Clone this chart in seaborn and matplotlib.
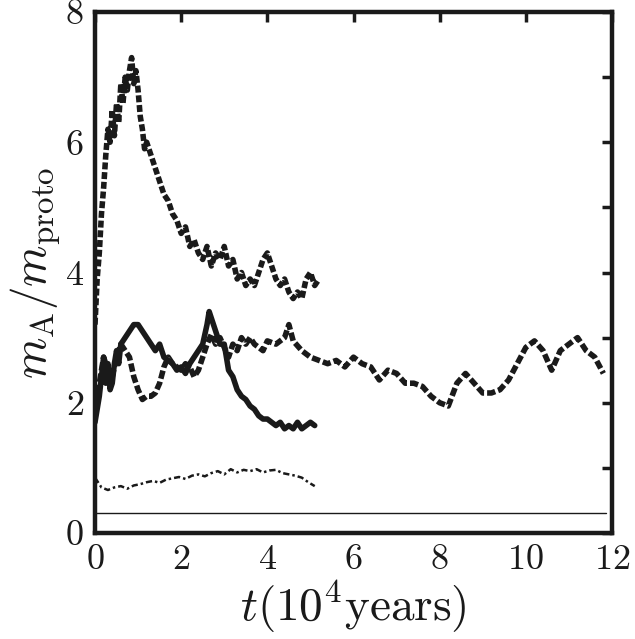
import matplotlib
matplotlib.use("Agg")
import matplotlib.pyplot as plt
import seaborn as sns
import pandas as pd

# ---- data ----
top_t = [0.0, 0.05, 0.1, 0.15, 0.2, 0.25, 0.3, 0.35, 0.4, 0.45, 0.5, 0.55, 0.6, 0.65, 0.7, 0.75,
         0.8, 0.85, 0.9, 0.95, 1.0, 1.05, 1.1, 1.15, 1.2, 1.3, 1.4, 1.5, 1.6, 1.7, 1.8, 1.9, 2.0,
         2.1, 2.2, 2.3, 2.4, 2.5, 2.6, 2.7, 2.8, 2.9, 3.0, 3.1, 3.2, 3.3, 3.4, 3.5, 3.6, 3.7, 3.8,
         3.9, 4.0, 4.1, 4.2, 4.3, 4.4, 4.5, 4.6, 4.7, 4.8, 4.9, 5.0, 5.1, 5.2]
top_m = [3.2, 3.9, 4.3, 4.9, 5.3, 5.8, 6.2, 6.0, 6.5, 6.1, 6.6, 6.3, 6.9, 6.6, 7.0, 6.8,
         7.1, 7.3, 6.9, 7.1, 6.8, 6.4, 6.2, 5.9, 6.0, 5.8, 5.6, 5.4, 5.2, 5.1, 4.9, 4.8, 4.6,
         4.7, 4.4, 4.5, 4.3, 4.2, 4.4, 4.1, 4.3, 4.2, 4.4, 4.1, 4.2, 3.9, 4.0, 3.8, 3.9, 3.8, 4.0,
         4.2, 4.3, 4.1, 3.9, 3.8, 3.9, 3.7, 3.6, 3.7, 3.6, 3.9, 4.0, 3.8, 3.9]

solid_t = [0.0, 0.05, 0.1, 0.15, 0.2, 0.25, 0.3, 0.35, 0.4, 0.45, 0.5, 0.55, 0.6, 0.7, 0.8, 0.9,
           1.0, 1.1, 1.2, 1.3, 1.4, 1.5, 1.6, 1.7, 1.8, 1.9, 2.0, 2.1, 2.2, 2.3, 2.4, 2.5, 2.6,
           2.65, 2.7, 2.8, 2.9, 3.0, 3.1, 3.2, 3.3, 3.4, 3.5, 3.6, 3.7, 3.8, 3.9, 4.0, 4.1, 4.2,
           4.3, 4.4, 4.5, 4.6, 4.7, 4.8, 4.9, 5.0, 5.1]
solid_m = [1.7, 1.9, 2.1, 2.4, 2.7, 2.3, 2.6, 2.2, 2.3, 2.6, 2.8, 2.6, 2.9, 3.0, 3.1, 3.2,
           3.2, 3.1, 3.0, 2.9, 2.8, 2.9, 2.7, 2.65, 2.6, 2.5, 2.55, 2.45, 2.6, 2.7, 2.8, 2.9, 3.2,
           3.4, 3.3, 3.1, 2.9, 2.9, 2.5, 2.4, 2.2, 2.1, 2.05, 1.95, 1.9, 1.8, 1.75, 1.75, 1.7, 1.65,
           1.7, 1.6, 1.65, 1.6, 1.7, 1.6, 1.65, 1.7, 1.65]

long_t = [0.0, 0.1, 0.2, 0.3, 0.4, 0.5, 0.6, 0.7, 0.8, 0.9, 1.0, 1.1, 1.2, 1.3, 1.4, 1.5, 1.6,
          1.7, 1.8, 1.9, 2.0, 2.1, 2.2, 2.3, 2.4, 2.5, 2.6, 2.7, 2.8, 2.9, 3.0, 3.1, 3.2, 3.3,
          3.4, 3.5, 3.6, 3.7, 3.8, 3.9, 4.0, 4.2, 4.4, 4.5, 4.6, 4.8, 5.0, 5.2, 5.4, 5.6, 5.8,
          6.0, 6.2, 6.4, 6.6, 6.8, 7.0, 7.2, 7.4, 7.6, 7.8, 8.0, 8.2, 8.4, 8.6, 8.8, 9.0, 9.2,
          9.4, 9.6, 9.8, 10.0, 10.2, 10.4, 10.6, 10.8, 11.0, 11.2, 11.4, 11.6, 11.8]
long_m = [1.8, 2.3, 2.7, 2.5, 2.4, 2.7, 2.9, 2.8, 2.7, 2.4, 2.2, 2.05, 2.1, 2.1, 2.15, 2.3, 2.55,
          2.7, 2.6, 2.55, 2.5, 2.6, 2.55, 2.4, 2.5, 2.7, 2.9, 3.05, 2.9, 3.0, 2.85, 2.7, 2.9, 2.8,
          3.0, 2.9, 3.0, 2.9, 2.85, 2.8, 2.95, 2.9, 3.0, 3.2, 2.95, 2.8, 2.7, 2.65, 2.6, 2.65, 2.55,
          2.7, 2.6, 2.55, 2.35, 2.5, 2.45, 2.3, 2.3, 2.25, 2.1, 2.0, 1.95, 2.3, 2.45, 2.3, 2.15,
          2.15, 2.2, 2.35, 2.6, 2.85, 2.95, 2.8, 2.5, 2.8, 2.9, 3.0, 2.8, 2.7, 2.45]

low_t = [0.0, 0.15, 0.3, 0.45, 0.6, 0.75, 0.9, 1.05, 1.2, 1.35, 1.5, 1.65, 1.8, 1.95, 2.1, 2.25,
         2.4, 2.55, 2.7, 2.85, 3.0, 3.15, 3.3, 3.45, 3.6, 3.75, 3.9, 4.05, 4.2, 4.35, 4.5, 4.65,
         4.8, 4.95, 5.1]
low_m = [0.85, 0.7, 0.66, 0.7, 0.72, 0.68, 0.73, 0.75, 0.78, 0.8, 0.77, 0.82, 0.84, 0.86, 0.83,
         0.88, 0.9, 0.87, 0.92, 0.95, 0.9, 0.98, 0.93, 0.97, 0.95, 0.98, 0.93, 0.96, 0.97, 0.92,
         0.9, 0.88, 0.85, 0.78, 0.72]

base_t = [0.0, 11.85]
base_m = [0.31, 0.31]

# ---- style ----
sns.set_style("white")
plt.rcParams["font.family"] = ["serif"]
plt.rcParams["font.serif"] = ["cmr10", "DejaVu Serif"]
plt.rcParams["mathtext.fontset"] = "cm"
plt.rcParams["axes.formatter.use_mathtext"] = True

ink = "#1a1a1a"
fig = plt.figure(figsize=(6.35, 6.39), dpi=100)
ax = fig.add_axes([95 / 635, 106 / 639, 517 / 635, 521 / 639])

def draw(t, m, **kw):
    df = pd.DataFrame({"t": t, "m": m})
    sns.lineplot(data=df, x="t", y="m", ax=ax, sort=False, estimator=None,
                 color=ink, **kw)

draw(base_t, base_m, linewidth=1.0)
draw(low_t, low_m, linewidth=1.8, linestyle=(0, (2.5, 1.2, 1, 1.2)))
draw(long_t, long_m, linewidth=4.0, linestyle=(0, (1.5, 0.55)))
draw(solid_t, solid_m, linewidth=4.0, linestyle="-")
draw(top_t, top_m, linewidth=4.0, linestyle=(0, (1.25, 0.5)))

ax.set_xlim(0, 12)
ax.set_ylim(0, 8)
ax.set_xticks([0, 2, 4, 6, 8, 10, 12])
ax.set_yticks([0, 2, 4, 6, 8])
ax.set_yticks([1, 3, 5, 7], minor=True)
ax.tick_params(axis="both", which="both", direction="in", top=True, right=True,
               length=7, width=2.5, color=ink, labelsize=26, pad=8, labelcolor=ink)
ax.tick_params(axis="y", which="minor", length=7, width=2.5)
for s in ax.spines.values():
    s.set_linewidth(3.2)
    s.set_color(ink)

ax.set_xlabel(r"$t(10^4{\rm years})$", fontsize=34, color=ink, labelpad=2)
ax.set_ylabel(r"$m_{\rm A}/m_{\rm proto}$", fontsize=34, color=ink, labelpad=2)

fig.savefig("out.png", dpi=100)
